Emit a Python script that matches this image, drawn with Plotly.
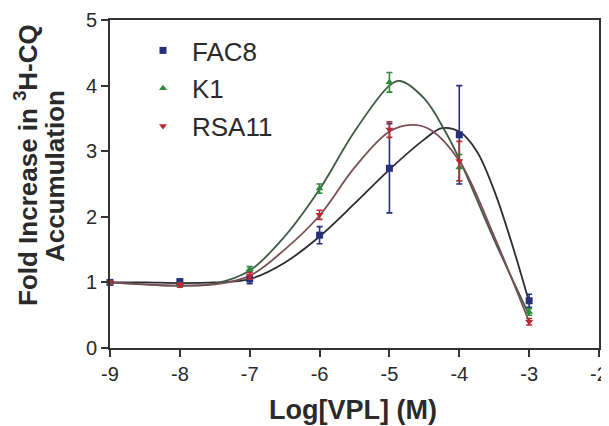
import plotly.graph_objects as go

# ---- data ----
log_vpl = [-9, -8, -7, -6, -5, -4, -3]

fac8 = [1.00, 1.01, 1.05, 1.72, 2.74, 3.25, 0.72]
fac8_err = [0.02, 0.04, 0.07, 0.13, 0.68, 0.75, 0.10]

k1 = [1.00, 0.96, 1.20, 2.43, 4.05, 2.75, 0.55]
k1_err = [0.02, 0.03, 0.04, 0.07, 0.15, 0.20, 0.05]

rsa11 = [1.00, 0.96, 1.10, 2.03, 3.33, 2.85, 0.40]
rsa11_err = [0.02, 0.03, 0.05, 0.07, 0.12, 0.30, 0.05]

# fitted curves
curve_x_fac8 = [-9, -8.5, -8, -7.5, -7, -6.5, -6, -5.5, -5, -4.5, -4.25, -4, -3.75, -3.5, -3.25, -3]
curve_fac8 = [1.00, 1.00, 0.99, 1.00, 1.05, 1.30, 1.70, 2.20, 2.72, 3.18, 3.35, 3.30, 3.00, 2.40, 1.60, 0.70]

curve_x_k1 = [-9, -8.5, -8, -7.5, -7, -6.5, -6, -5.5, -5, -4.85, -4.5, -4.2, -4, -3.5, -3]
curve_k1 = [1.00, 0.97, 0.95, 0.98, 1.18, 1.70, 2.42, 3.30, 4.00, 4.07, 3.80, 3.30, 2.88, 1.65, 0.50]

curve_x_rsa11 = [-9, -8.5, -8, -7.5, -7, -6.5, -6, -5.5, -5, -4.68, -4.42, -4, -3.5, -3]
curve_rsa11 = [1.00, 0.97, 0.95, 0.97, 1.10, 1.50, 2.02, 2.75, 3.30, 3.40, 3.33, 2.85, 1.70, 0.40]

x_ticks = [-9, -8, -7, -6, -5, -4, -3, -2]
y_ticks = [0, 1, 2, 3, 4, 5]

FONT = "Arial, Liberation Sans, sans-serif"
TXT = "#2a2a2a"

# the page body has an 8px margin, so the figure is 8px smaller than the window
W, H = 601, 418
ML, MR, MT, MB = 102, 10, 12, 78
PW, PH = W - ML - MR, H - MT - MB

fig = go.Figure()

# curves
for cx, cy, col in [
    (curve_x_fac8, curve_fac8, "#2c2c34"),
    (curve_x_k1, curve_k1, "#3f5a44"),
    (curve_x_rsa11, curve_rsa11, "#7a5056"),
]:
    fig.add_trace(go.Scatter(
        x=cx, y=cy, mode="lines", line=dict(color=col, width=1.8, shape="spline", smoothing=1.0),
        showlegend=False, hoverinfo="skip", cliponaxis=False))

# data points
for name, y, err, sym, col in [
    ("FAC8", fac8, fac8_err, "square", "#27307a"),
    ("K1", k1, k1_err, "triangle-up", "#2f8a3c"),
    ("RSA11", rsa11, rsa11_err, "triangle-down", "#b82a34"),
]:
    fig.add_trace(go.Scatter(
        x=log_vpl, y=y, mode="markers", name=name, legendgroup=name,
        marker=dict(symbol=sym, size=7, color=col),
        error_y=dict(type="data", array=err, color=col, thickness=1.6, width=3),
        cliponaxis=False))

fig.update_layout(
    width=W, height=H,
    margin=dict(l=ML, r=MR, t=MT, b=MB, autoexpand=False),
    paper_bgcolor="white", plot_bgcolor="white",
    font=dict(family=FONT, color=TXT, size=20),
    showlegend=True,
    legend=dict(x=(126 - ML) / PW, y=1 - (19 - MT) / PH, xanchor="left", yanchor="top",
                font=dict(size=26, family=FONT, color=TXT),
                tracegroupgap=1, bgcolor="rgba(0,0,0,0)", itemwidth=48),
    xaxis=dict(range=[-9, -2], tickmode="array", tickvals=x_ticks,
               ticktext=[str(v) for v in x_ticks], automargin=False,
               showline=True, linecolor="#333", linewidth=2, mirror=True,
               ticks="outside", ticklen=7, tickwidth=2, tickcolor="#333",
               showgrid=False, zeroline=False, tickfont=dict(size=20)),
    yaxis=dict(range=[0, 5], tickmode="array", tickvals=y_ticks, automargin=False,
               showline=True, linecolor="#333", linewidth=2, mirror=True,
               ticks="outside", ticklen=7, tickwidth=2, tickcolor="#333",
               showgrid=False, zeroline=False, tickfont=dict(size=20)),
    annotations=[
        dict(text="<b>Fold Increase in <sup>3</sup>H-CQ</b>",
             xref="paper", yref="paper", x=(18 - ML) / PW, y=1 - (157 - MT) / PH, textangle=-90,
             xanchor="center", yanchor="middle", showarrow=False,
             font=dict(size=26, family=FONT, color=TXT)),
        dict(text="<b>Accumulation</b>",
             xref="paper", yref="paper", x=(47 - ML) / PW, y=1 - (168 - MT) / PH, textangle=-90,
             xanchor="center", yanchor="middle", showarrow=False,
             font=dict(size=26, family=FONT, color=TXT)),
        dict(text="<b>Log[VPL] (M)</b>",
             xref="paper", yref="paper", x=(345 - ML) / PW, y=-(402 - (H - MB)) / PH,
             xanchor="center", yanchor="middle", showarrow=False,
             font=dict(size=27, family=FONT, color=TXT)),
    ],
)

fig.write_html("out.html")
